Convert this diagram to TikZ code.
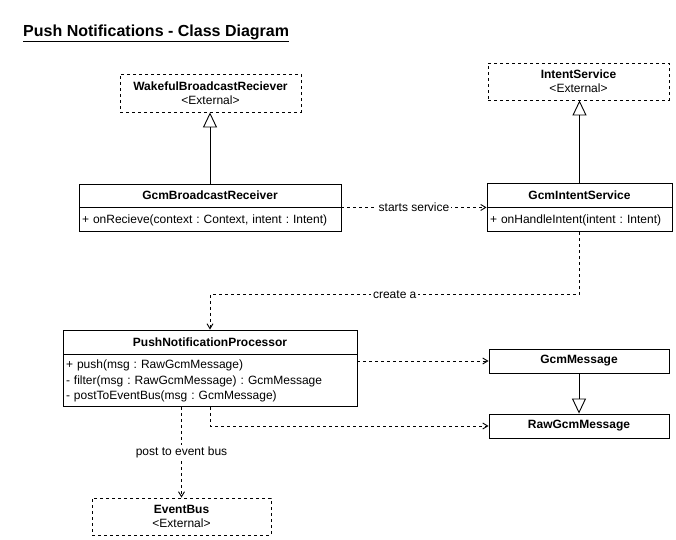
\documentclass[tikz,border=0pt]{standalone}
\usepackage{fontspec}
\setmainfont{Liberation Sans}
\usetikzlibrary{arrows.meta,positioning}
\frenchspacing

\begin{document}
\begin{tikzpicture}[x=1pt, y=-1pt,
  font=\fontsize{12}{14}\selectfont,
  classhead/.style={draw, line width=0.9pt, font=\fontsize{12}{14}\selectfont\bfseries, minimum height=24pt, inner sep=0pt},
  classbody/.style={draw, line width=0.9pt, align=left, inner xsep=3pt, inner ysep=0pt, font=\fontsize{12}{15.5}\selectfont},
  external/.style={draw, line width=0.9pt, dash pattern=on 3pt off 3pt, minimum height=38pt, align=center, inner sep=0pt, font=\fontsize{12}{14}\selectfont},
  dep/.style={-{Straight Barb[length=5pt, width=6pt]}, line width=0.9pt, dash pattern=on 3pt off 3pt},
  extends/.style={-{Triangle[open, length=15pt, width=14pt]}, line width=0.9pt},
  lbl/.style={fill=white, inner sep=2pt}
]
\useasboundingbox (0,0) rectangle (676,539);

\node[anchor=west, inner sep=0pt, font=\fontsize{16}{19}\selectfont\bfseries] (title) at (23,33) {\underline{Push Notifications - Class Diagram}};

% external classes
\node[external, minimum width=181pt] (wakeful) at (210.5,93) {\textbf{WakefulBroadcastReciever}\\<External>};
\node[external, minimum width=181pt, minimum height=37pt] (intentSvc) at (578.5,81.5) {\textbf{IntentService}\\<External>};
\node[external, minimum width=179pt, minimum height=37pt] (eventBus) at (181.5,516.5) {\textbf{EventBus}\\<External>};

% receiver and service
\node[classhead, minimum width=262pt, minimum height=23pt] (brHead) at (210,195.5) {GcmBroadcastReceiver};
\node[classbody, below=0pt of brHead, text width=256pt, minimum height=24pt] (brBody) {+ onRecieve(context : Context, intent : Intent)};
\node[classhead, minimum width=185pt] (gisHead) at (579.5,195) {GcmIntentService};
\node[classbody, below=0pt of gisHead, text width=179pt, minimum height=24pt] (gisBody) {+ onHandleIntent(intent : Intent)};

% processor
\node[classhead, minimum width=294pt] (pnpHead) at (210,342) {PushNotificationProcessor};
\node[classbody, below=0pt of pnpHead, text width=288pt, minimum height=52pt] (pnpBody) {+ push(msg : RawGcmMessage)\\- filter(msg : RawGcmMessage) : GcmMessage\\- postToEventBus(msg : GcmMessage)};

% messages
\node[classhead, minimum width=180pt] (gcmMsg) at (579,361) {GcmMessage};
\node[classhead, minimum width=180pt] (rawMsg) at (579,426) {RawGcmMessage};

% generalisation
\draw[extends] (brHead.north) -- (brHead.north |- wakeful.south);
\draw[extends] (gisHead.north) -- (gisHead.north |- intentSvc.south);
\draw[extends] (gcmMsg) -- (rawMsg);

% dependencies
\draw[dep] (brHead.south east) -- node[lbl] {starts service} (gisHead.south west);
\draw[dep] (gisBody.south) -- ++(0,62) -| node[lbl, pos=0.25] {create a} (pnpHead.north);
\draw[dep] (gcmMsg.west -| pnpBody.east) -- (gcmMsg.west);
\draw[dep] (pnpBody.south) |- (rawMsg.west);
\draw[dep] (eventBus.north |- pnpBody.south) -- node[lbl, pos=0.5] {post to event bus} (eventBus.north);
\end{tikzpicture}
\end{document}
